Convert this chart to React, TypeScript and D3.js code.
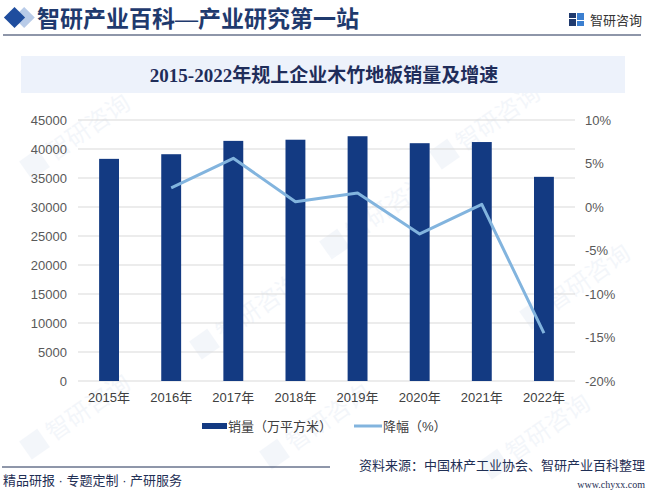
import React from "react";
import * as d3 from "d3";

const years = ["2015年", "2016年", "2017年", "2018年", "2019年", "2020年", "2021年", "2022年"];
const sales = [38300, 39100, 41400, 41600, 42200, 41000, 41200, 35200];
const growth: (number | null)[] = [null, 2.2, 5.6, 0.6, 1.6, -3.1, 0.3, -14.5];
const leftTicks = [0, 5000, 10000, 15000, 20000, 25000, 30000, 35000, 40000, 45000];
const rightTicks = [-20, -15, -10, -5, 0, 5, 10];

const W = 648;
const H = 493;
const plot = { left: 78, right: 575, top: 120, bottom: 381 };

const SANS = "Arial, 'Liberation Sans', 'Noto Sans CJK SC', sans-serif";
const SERIF = "'Liberation Serif', 'DejaVu Serif', 'Noto Sans CJK SC', serif";

export default function App() {
  const x = d3.scaleBand<string>().domain(years).range([plot.left, plot.right]).paddingInner(0.68).paddingOuter(0.34);
  const yL = d3.scaleLinear().domain([0, 45000]).range([plot.bottom, plot.top]);
  const yR = d3.scaleLinear().domain([-20, 10]).range([plot.bottom, plot.top]);

  const pts = years
    .map((yr, i) => ({ yr, v: growth[i] }))
    .filter((d) => d.v !== null) as { yr: string; v: number }[];
  const line = d3
    .line<{ yr: string; v: number }>()
    .x((d) => (x(d.yr) as number) + x.bandwidth() / 2)
    .y((d) => yR(d.v));

  const wm = [
    [60, 150], [230, 330], [470, 140], [560, 300], [60, 430], [300, 440], [520, 450], [360, 230],
  ];

  return (
    <svg width={W} height={H} style={{ position: "absolute", left: 0, top: 0, background: "#fff" }}>
      <rect x={0} y={0} width={W} height={H} fill="#fff" />
      {/* watermarks */}
      {wm.map(([wx, wy], i) => (
        <g key={i} transform={`translate(${wx},${wy}) rotate(-35)`} opacity={0.05}>
          <rect x={-40} y={-14} width={22} height={22} fill="#2b5fb0" />
          <text x={-12} y={6} fontSize={24} fontFamily={SANS} fill="#2b5fb0">智研咨询</text>
        </g>
      ))}

      {/* header */}
      <g>
        <rect x={11} y={10} width={15} height={15} fill="#b8cbe8" transform="rotate(45 18.5 17.5) translate(4,-4)" />
        <rect x={7} y={10} width={15} height={15} fill="#1f4d9e" transform="rotate(45 14.5 17.5)" />
        <text x={37} y={27} fontSize={23} fontFamily={SERIF} fontWeight={700} fill="#1f3a6e">
          智研产业百科—产业研究第一站
        </text>
        <line x1={3} x2={641} y1={35} y2={35} stroke="#1f2f55" strokeWidth={1.2} />
        <g>
          <rect x={569} y={13} width={7} height={5} fill="#1f3a6e" />
          <rect x={569} y={19} width={7} height={7} fill="#1f3a6e" />
          <rect x={577} y={13} width={7} height={7} fill="#3b7fd0" />
          <rect x={577} y={21} width={7} height={5} fill="#3b7fd0" />
        </g>
        <text x={590} y={25} fontSize={13} fontFamily={SANS} fill="#333">智研咨询</text>
      </g>

      {/* title box */}
      <rect x={21} y={56} width={604} height={37} fill="#edf2fb" />
      <text x={324} y={82} textAnchor="middle" fontSize={19} fontWeight={700} fontFamily={SERIF} fill="#1f2d5a">
        2015-2022年规上企业木竹地板销量及增速
      </text>

      {/* grid */}
      {leftTicks.map((t) => (
        <line key={t} x1={plot.left} x2={plot.right} y1={yL(t)} y2={yL(t)} stroke="#d9d9d9" strokeWidth={1} />
      ))}

      {/* bars */}
      {years.map((yr, i) => (
        <rect key={yr} x={x(yr)} y={yL(sales[i])} width={x.bandwidth()} height={plot.bottom - yL(sales[i])} fill="#133a82" />
      ))}

      {/* line */}
      <path d={line(pts) || ""} fill="none" stroke="#82b4de" strokeWidth={3} strokeLinejoin="round" />

      {/* left ticks */}
      {leftTicks.map((t) => (
        <text key={t} x={67} y={yL(t) + 4.5} textAnchor="end" fontSize={13} fontFamily={SANS} fill="#595959">
          {t}
        </text>
      ))}
      {/* right ticks */}
      {rightTicks.map((t) => (
        <text key={t} x={585} y={yR(t) + 4.5} textAnchor="start" fontSize={13} fontFamily={SANS} fill="#595959">
          {`${t}%`}
        </text>
      ))}
      {/* x labels */}
      {years.map((yr) => (
        <text key={yr} x={(x(yr) as number) + x.bandwidth() / 2} y={402} textAnchor="middle" fontSize={13} fontFamily={SANS} fill="#404040">
          {yr}
        </text>
      ))}

      {/* legend */}
      <rect x={202} y={423} width={25} height={6} fill="#133a82" />
      <text x={228} y={431} fontSize={13} fontFamily={SANS} fill="#404040">销量（万平方米）</text>
      <line x1={354} x2={382} y1={426} y2={426} stroke="#82b4de" strokeWidth={3} />
      <text x={383} y={431} fontSize={13} fontFamily={SANS} fill="#404040">降幅（%）</text>

      {/* footer */}
      <line x1={2} x2={330} y1={467} y2={467} stroke="#1f2f55" strokeWidth={1} />
      <text x={645} y={470} textAnchor="end" fontSize={13} fontFamily={SANS} fill="#1f2f55">
        资料来源：中国林产工业协会、智研产业百科整理
      </text>
      <text x={3} y={485} fontSize={13} fontFamily={SANS} fill="#1f2f55">精品研报 · 专题定制 · 产研服务</text>
      <text x={645} y={488} textAnchor="end" fontSize={10} fontFamily={SERIF} fill="#1f2f55">www.chyxx.com</text>
    </svg>
  );
}
